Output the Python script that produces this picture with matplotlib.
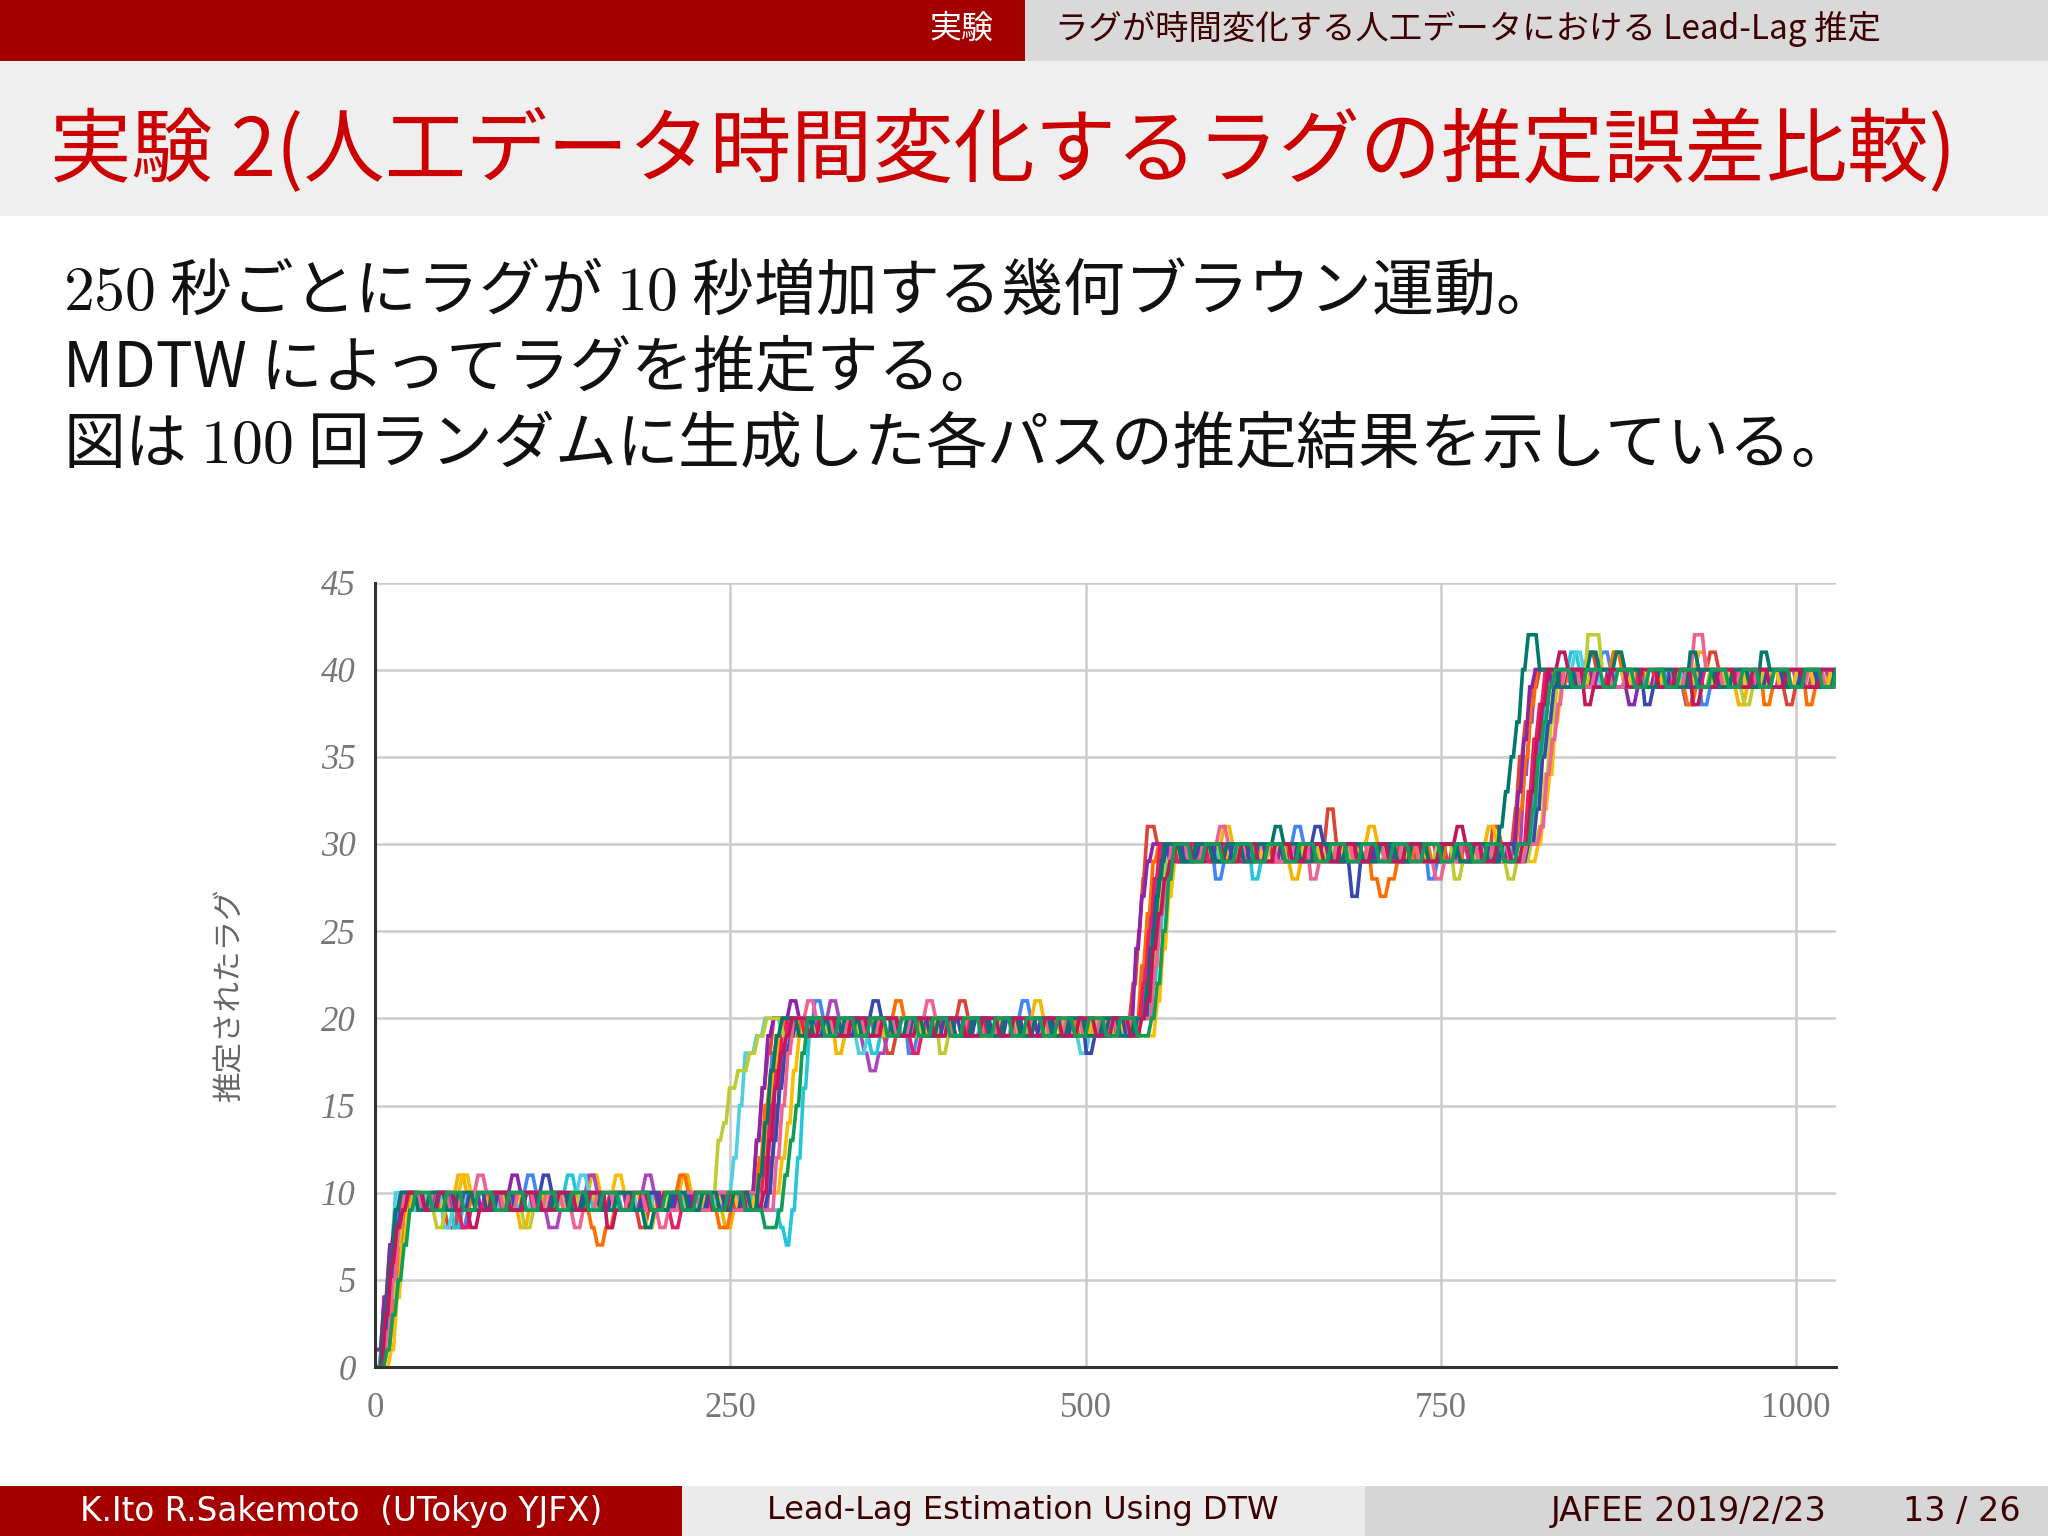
import matplotlib
matplotlib.use("Agg")
import matplotlib.pyplot as plt
from matplotlib.patches import Rectangle

# =================== DATA ===================
# each path: flat list x0, y0, x1, y1, ... -> estimated lag becomes y at time x
path_blue = [0,0, 3,2, 7,5, 11,8, 15,10, 29,9, 37,10, 51,9, 57,8, 63,9, 71,10, 85,9, 93,10, 105,11, 111,10,
             123,9, 135,10, 147,9, 154,10, 171,9, 179,10, 193,9, 206,10, 215,9, 227,10, 241,9, 253,10, 263,9,
             269,12, 273,15, 277,18, 281,19, 287,20, 299,19, 307,21, 313,20, 327,19, 335,20, 349,19, 361,20,
             373,18, 379,19, 391,20, 405,19, 417,20, 429,19, 441,20, 453,21, 459,20, 471,19, 483,20, 495,19,
             507,20, 521,19, 533,20, 541,23, 545,26, 549,29, 553,30, 567,29, 575,30, 589,28, 595,29, 607,30,
             621,29, 631,30, 645,31, 651,30, 663,29, 677,30, 689,29, 701,30, 715,29, 727,30, 739,28, 745,29,
             757,30, 771,29, 783,30, 797,29, 807,30, 813,33, 817,36, 821,38, 825,40, 839,39, 847,40, 861,41,
             867,40, 881,39, 893,40, 907,39, 919,40, 931,38, 937,39, 951,40, 963,39, 975,40, 989,39, 1001,40,
             1015,39, 1028,40]
path_red = [0,1, 4,4, 8,7, 12,9, 18,10, 26,9, 34,10, 44,9, 49,8, 56,9, 62,10, 72,9, 79,10, 92,9, 104,10,
            116,9, 124,10, 138,9, 144,10, 157,9, 165,10, 176,9, 184,8, 190,9, 198,10, 210,9, 222,10, 232,9,
            240,10, 251,9, 259,10, 266,13, 270,16, 274,18, 278,20, 290,19, 296,20, 308,19, 318,20, 331,19,
            337,20, 350,19, 358,18, 364,19, 374,20, 386,19, 396,20, 409,21, 415,20, 425,19, 437,20, 449,19,
            457,20, 468,19, 476,20, 488,19, 500,20, 512,19, 524,20, 531,22, 535,25, 538,28, 541,31, 548,30,
            560,29, 568,30, 580,29, 590,30, 602,29, 612,30, 624,29, 632,30, 646,29, 654,30, 668,32, 674,30,
            684,29, 696,30, 708,29, 718,30, 730,29, 738,30, 752,29, 764,30, 776,29, 784,31, 790,30, 800,32,
            803,35, 807,37, 811,39, 817,40, 829,39, 837,40, 851,41, 857,40, 869,39, 881,40, 893,39, 903,40,
            915,39, 925,40, 937,41, 943,40, 955,39, 967,40, 979,39, 991,38, 997,39, 1009,40, 1021,39]
path_yellow = [0,0, 6,1, 10,3, 14,6, 18,9, 24,10, 36,9, 42,10, 56,11, 62,10, 70,9, 82,10, 94,9, 100,8,
               106,9, 116,10, 130,9, 138,10, 150,11, 156,10, 168,9, 176,10, 190,9, 200,10, 214,11, 220,10,
               230,9, 244,8, 250,9, 258,10, 270,11, 274,14, 278,17, 282,19, 288,20, 300,19, 310,20, 322,18,
               328,19, 338,20, 352,19, 362,20, 374,19, 382,20, 396,19, 406,20, 418,19, 428,20, 440,19, 450,20,
               462,21, 468,20, 480,19, 490,20, 504,19, 514,20, 526,19, 536,20, 543,22, 547,25, 551,27, 555,29,
               561,30, 573,29, 583,30, 595,31, 601,30, 613,29, 623,30, 635,29, 643,28, 649,29, 661,30, 675,29,
               685,30, 697,31, 703,30, 715,29, 725,30, 737,29, 745,30, 759,29, 771,30, 781,31, 787,30, 795,29,
               809,30, 815,32, 819,35, 823,37, 827,39, 833,40, 845,39, 853,40, 869,41, 875,40, 883,39, 893,40,
               905,39, 917,40, 929,41, 935,40, 947,39, 957,38, 963,39, 975,40, 987,39, 999,40, 1011,39, 1021,40]
path_purple = [0,0, 4,3, 8,6, 12,9, 16,10, 30,9, 40,10, 52,9, 60,10, 70,9, 78,10, 90,9, 102,10, 114,9,
               120,8, 128,9, 138,10, 148,11, 154,10, 166,9, 176,10, 188,11, 194,10, 206,9, 218,10, 228,9,
               236,10, 248,9, 258,10, 270,9, 276,12, 280,15, 284,18, 288,20, 300,19, 308,20, 318,21, 324,20,
               336,19, 342,18, 346,17, 352,18, 358,19, 368,20, 380,19, 392,20, 402,19, 414,20, 426,19, 438,20,
               450,19, 458,20, 470,19, 482,20, 494,19, 506,20, 518,19, 528,20, 539,23, 543,26, 547,28, 551,30,
               563,29, 573,30, 585,29, 597,30, 609,29, 619,30, 631,29, 641,30, 653,29, 663,30, 675,29, 683,30,
               697,29, 709,30, 721,29, 733,30, 745,29, 757,30, 767,29, 777,30, 789,29, 799,30, 806,34, 810,37,
               814,40, 826,39, 836,40, 848,39, 856,40, 868,39, 878,40, 890,39, 900,40, 912,39, 920,38, 926,39,
               938,40, 950,39, 962,40, 974,39, 986,40, 998,39, 1010,40, 1022,39]
path_cyan = [0,0, 5,2, 9,5, 13,8, 17,10, 31,9, 41,10, 53,8, 59,9, 71,10, 83,9, 95,10, 109,9, 121,10,
             133,11, 139,10, 151,9, 163,10, 175,9, 185,10, 199,9, 211,10, 221,9, 233,10, 245,9, 255,10,
             265,9, 283,8, 287,7, 291,9, 295,12, 299,16, 303,19, 307,20, 319,19, 327,20, 341,19, 347,18,
             353,19, 365,20, 377,19, 389,20, 401,19, 413,20, 425,19, 437,20, 449,19, 461,20, 473,19, 485,20,
             497,19, 507,20, 519,19, 531,20, 545,22, 549,25, 553,28, 557,30, 569,29, 579,30, 591,29, 603,30,
             615,28, 621,29, 633,30, 645,29, 657,30, 669,29, 679,30, 691,29, 703,30, 715,29, 727,30, 739,29,
             751,30, 763,29, 775,30, 787,29, 797,30, 811,31, 815,33, 819,36, 823,39, 827,40, 839,41, 845,40,
             857,39, 869,40, 881,39, 893,40, 905,39, 917,40, 929,39, 941,40, 953,39, 965,40, 977,39, 989,40,
             1001,39, 1013,40]
path_orange = [0,0, 6,1, 10,4, 14,7, 18,9, 22,10, 34,9, 44,10, 58,9, 66,10, 78,9, 86,10, 98,9, 110,10,
               120,9, 128,10, 140,9, 150,8, 154,7, 160,8, 166,9, 178,10, 190,9, 200,10, 212,11, 218,10,
               230,9, 240,8, 248,9, 258,10, 268,12, 272,15, 276,17, 280,19, 286,20, 298,19, 306,20, 318,19,
               330,20, 342,19, 352,20, 364,21, 370,20, 382,19, 392,20, 404,19, 414,20, 426,19, 436,20, 448,19,
               458,20, 470,19, 482,20, 492,19, 504,20, 516,19, 526,20, 537,23, 541,26, 545,29, 549,30, 561,29,
               571,30, 583,29, 595,30, 607,29, 617,30, 629,29, 639,30, 651,29, 663,30, 675,29, 687,30, 699,28,
               705,27, 711,28, 717,29, 729,30, 741,29, 751,30, 763,29, 775,30, 785,29, 795,30, 803,32, 807,35,
               811,38, 815,40, 827,39, 837,40, 849,39, 857,40, 869,41, 875,40, 887,39, 899,40, 911,39, 921,38,
               927,39, 939,40, 951,39, 963,40, 975,38, 981,39, 993,40, 1005,38, 1011,39, 1023,40]
path_lime = [0,0, 5,2, 9,4, 13,7, 17,9, 21,10, 33,9, 41,8, 47,9, 57,10, 69,9, 81,10, 93,9, 103,8, 109,9,
             119,10, 131,9, 141,10, 153,9, 165,10, 177,9, 189,8, 195,9, 205,10, 217,9, 229,10, 239,13,
             243,14, 247,16, 253,17, 261,18, 267,19, 273,20, 285,19, 295,20, 307,19, 317,20, 329,19, 339,20,
             351,19, 363,20, 373,19, 383,20, 395,18, 401,19, 413,20, 425,19, 437,20, 449,19, 459,20, 471,19,
             483,20, 495,19, 505,20, 517,19, 529,20, 541,21, 545,24, 549,27, 553,29, 559,30, 571,29, 581,30,
             593,29, 605,30, 617,29, 627,30, 639,29, 651,30, 663,29, 673,30, 685,29, 697,30, 709,29, 721,30,
             733,29, 745,30, 757,28, 763,29, 773,30, 785,29, 795,28, 801,29, 811,30, 817,31, 821,34, 825,37,
             829,39, 835,40, 843,39, 851,42, 861,40, 877,39, 889,40, 901,39, 913,40, 925,39, 937,40, 949,39,
             961,38, 967,39, 979,40, 991,39, 1003,40, 1015,39, 1025,40]
path_navy = [0,0, 4,2, 8,5, 12,8, 16,9, 20,10, 32,9, 42,10, 54,9, 64,10, 76,9, 84,10, 96,9, 104,10,
             116,11, 122,10, 134,9, 144,10, 156,9, 164,10, 176,9, 186,10, 198,9, 208,10, 220,9, 232,10,
             244,9, 256,10, 268,9, 274,10, 278,13, 282,16, 286,18, 290,19, 294,20, 306,19, 314,20, 326,19,
             336,20, 348,21, 354,20, 366,19, 376,20, 388,19, 398,20, 410,19, 420,20, 432,19, 442,20, 454,19,
             466,20, 476,19, 488,20, 498,18, 504,19, 514,20, 526,19, 534,20, 543,24, 547,27, 551,29, 555,30,
             567,29, 577,30, 589,29, 601,30, 613,29, 625,30, 637,29, 647,30, 659,31, 665,30, 677,29, 685,27,
             691,29, 701,30, 713,29, 723,30, 735,29, 747,30, 759,29, 771,30, 783,29, 791,30, 801,29, 809,30,
             815,32, 819,35, 823,37, 827,39, 831,40, 843,39, 855,40, 867,39, 879,40, 891,38, 897,39, 909,40,
             921,39, 931,40, 943,39, 953,40, 965,39, 977,40, 989,39, 1001,40, 1013,39, 1025,40]
path_pink = [0,0, 6,2, 10,5, 14,8, 18,10, 30,9, 38,10, 50,9, 58,10, 70,11, 76,10, 88,9, 98,10, 110,9,
             118,10, 130,9, 138,8, 144,9, 154,10, 166,9, 176,10, 188,9, 198,8, 204,9, 214,10, 226,9, 236,10,
             248,9, 260,10, 270,9, 280,12, 284,15, 288,18, 292,20, 302,21, 308,20, 320,19, 330,20, 342,19,
             352,20, 364,19, 374,20, 386,21, 392,20, 404,19, 414,20, 426,19, 436,20, 448,19, 460,20, 472,19,
             484,20, 496,19, 508,20, 520,19, 530,20, 546,23, 550,26, 554,28, 558,30, 570,29, 580,30, 592,31,
             598,30, 610,29, 620,30, 632,29, 644,30, 656,28, 662,29, 674,30, 686,29, 696,30, 708,29, 720,30,
             732,29, 744,28, 750,29, 762,30, 774,29, 784,30, 796,29, 808,30, 818,31, 822,34, 826,36, 830,38,
             834,40, 846,39, 856,40, 868,39, 878,40, 890,39, 900,40, 912,39, 920,40, 926,42, 934,40, 946,39,
             958,40, 970,39, 982,40, 994,39, 1006,40, 1018,39]
path_teal = [0,0, 4,3, 8,6, 12,9, 16,10, 28,9, 36,10, 48,9, 56,10, 68,9, 80,10, 92,9, 102,10, 114,9,
             124,10, 136,9, 146,10, 158,9, 168,10, 180,9, 188,8, 194,9, 206,10, 218,9, 228,10, 240,9, 250,10,
             262,9, 268,11, 272,14, 276,17, 280,19, 284,20, 296,19, 306,20, 318,19, 328,20, 340,19, 350,20,
             362,19, 372,20, 384,19, 394,20, 406,19, 418,20, 430,19, 440,20, 452,19, 462,20, 474,19, 486,20,
             498,19, 510,20, 522,19, 532,20, 541,22, 545,25, 549,28, 553,30, 565,29, 575,30, 587,29, 597,30,
             609,29, 619,30, 631,31, 637,30, 649,29, 659,30, 671,29, 681,30, 693,29, 705,30, 717,29, 727,30,
             739,29, 749,30, 761,29, 771,30, 781,29, 789,31, 793,33, 797,35, 801,37, 805,40, 809,42, 817,40,
             831,39, 841,40, 853,41, 859,40, 871,41, 877,40, 889,39, 901,40, 913,39, 923,41, 929,40, 941,39,
             953,40, 965,39, 973,41, 979,40, 991,39, 1003,40, 1015,39, 1025,40]
path_crimson = [0,0, 5,3, 9,6, 13,8, 17,9, 21,10, 33,9, 43,10, 55,9, 65,8, 71,9, 81,10, 93,9, 103,10,
                115,9, 127,10, 139,9, 149,10, 161,8, 167,9, 179,10, 191,9, 201,10, 213,9, 223,10, 235,9,
                247,10, 259,9, 271,10, 275,13, 279,16, 283,18, 287,19, 291,20, 303,19, 311,20, 323,19, 333,20,
                345,19, 355,20, 367,19, 379,20, 391,19, 401,20, 413,19, 425,20, 437,19, 447,20, 459,19, 469,20,
                481,19, 493,20, 505,19, 517,20, 529,19, 537,20, 541,21, 545,24, 549,26, 553,28, 557,29, 561,30,
                573,29, 583,30, 595,29, 607,30, 619,29, 631,30, 643,29, 653,30, 665,29, 677,30, 689,29, 699,30,
                711,29, 723,30, 735,29, 747,30, 759,31, 765,30, 777,29, 787,30, 797,29, 805,30, 811,33, 815,36,
                819,38, 823,40, 831,41, 837,40, 849,38, 855,39, 867,40, 879,39, 889,40, 901,39, 913,40, 925,38,
                931,39, 943,40, 955,39, 967,40, 979,39, 991,40, 1003,39, 1015,40]
path_green = [0,0, 6,1, 10,3, 14,5, 18,7, 22,9, 26,10, 38,9, 48,10, 60,9, 70,10, 82,9, 92,10, 104,9,
              114,10, 126,9, 136,10, 148,9, 158,10, 170,9, 180,10, 192,9, 202,10, 214,9, 224,10, 236,9,
              246,10, 258,9, 272,8, 282,9, 286,11, 290,13, 294,15, 298,18, 302,20, 314,19, 324,20, 336,19,
              346,20, 358,19, 368,20, 380,19, 390,20, 402,19, 412,20, 424,19, 434,20, 446,19, 456,20, 468,19,
              478,20, 490,19, 500,20, 512,19, 522,20, 534,19, 544,20, 548,22, 552,25, 556,28, 560,30, 572,29,
              582,30, 594,29, 604,30, 616,29, 626,30, 638,29, 648,30, 660,29, 670,30, 682,29, 692,30, 704,29,
              714,30, 726,29, 736,30, 748,29, 758,30, 770,29, 780,30, 792,29, 802,30, 812,32, 816,35, 820,37,
              824,39, 828,40, 840,39, 850,40, 862,39, 872,40, 884,39, 894,40, 906,39, 916,40, 928,39, 938,40,
              950,39, 960,40, 972,39, 982,40, 994,39, 1004,40, 1016,39, 1026,40]
path_lightcyan = [0,0, 4,3, 8,7, 12,10, 26,9, 34,10, 46,8, 52,9, 62,10, 76,9, 86,10, 98,9, 108,10, 120,9,
                  128,10, 142,11, 148,10, 160,9, 170,10, 182,9, 194,10, 206,9, 216,10, 228,9, 238,10, 250,12,
                  254,15, 258,18, 266,19, 272,20, 284,19, 294,20, 306,19, 316,20, 328,19, 338,18, 344,19,
                  356,20, 368,19, 378,20, 390,19, 402,20, 414,19, 424,20, 436,19, 446,20, 458,19, 470,20,
                  482,19, 494,18, 500,19, 512,20, 524,19, 534,20, 542,23, 546,26, 550,28, 554,30, 566,29,
                  576,30, 588,29, 598,30, 610,29, 622,30, 634,29, 644,30, 656,29, 668,30, 680,29, 690,30,
                  702,29, 714,30, 726,29, 736,30, 748,29, 760,30, 772,29, 782,30, 794,29, 806,30, 814,33,
                  818,35, 822,36, 826,38, 830,40, 842,41, 848,40, 860,39, 870,40, 882,39, 894,40, 906,39,
                  918,40, 930,39, 940,40, 952,39, 964,40, 976,39, 988,40, 1000,39, 1012,40, 1024,39]
path_gold = [0,0, 7,0, 9,1, 13,4, 17,7, 21,9, 25,10, 37,9, 47,10, 59,11, 65,10, 77,9, 89,10, 101,9,
             111,10, 123,9, 133,10, 145,9, 155,10, 167,11, 173,10, 185,9, 197,10, 209,9, 219,10, 231,9,
             241,10, 253,9, 265,10, 284,12, 288,14, 292,17, 296,19, 300,20, 312,19, 322,20, 334,19, 344,20,
             356,19, 366,20, 378,19, 388,20, 400,19, 412,20, 424,19, 434,20, 446,19, 456,20, 468,19, 478,20,
             490,19, 502,20, 514,19, 524,20, 536,19, 548,21, 552,24, 556,27, 560,29, 564,30, 576,29, 586,30,
             598,29, 610,30, 622,29, 632,30, 644,29, 656,30, 668,29, 678,30, 690,29, 700,30, 712,29, 724,30,
             736,29, 748,30, 760,29, 772,30, 784,29, 796,30, 808,29, 816,30, 820,32, 824,34, 828,37, 832,39,
             836,40, 848,39, 858,40, 870,39, 882,40, 894,39, 904,40, 916,39, 928,40, 940,39, 950,40, 962,39,
             974,40, 986,39, 998,40, 1010,39, 1022,40]
path_violet = [0,1, 4,4, 8,7, 12,9, 16,10, 28,9, 38,10, 50,9, 60,10, 72,9, 82,10, 94,11, 100,10, 112,9,
               122,10, 134,9, 144,10, 156,9, 166,10, 178,9, 188,10, 200,9, 210,10, 222,9, 234,10, 246,9,
               256,10, 266,13, 270,16, 274,19, 278,20, 290,21, 296,20, 308,19, 318,20, 330,19, 340,20, 352,19,
               362,20, 374,19, 384,20, 396,19, 406,20, 418,19, 428,20, 440,19, 452,20, 464,19, 474,20, 486,19,
               498,20, 510,19, 520,20, 533,24, 537,27, 541,29, 545,30, 557,29, 567,30, 579,29, 589,30, 601,29,
               613,30, 625,29, 635,30, 647,29, 657,30, 669,29, 681,30, 693,29, 703,30, 715,29, 727,30, 739,29,
               749,30, 761,29, 773,30, 785,29, 795,30, 802,33, 806,36, 810,39, 814,40, 826,39, 836,40, 848,39,
               858,40, 870,39, 880,38, 886,39, 898,40, 910,39, 920,40, 932,39, 944,40, 956,39, 968,40, 980,39,
               990,40, 1002,39, 1014,40, 1026,39]
path_rose = [0,0, 5,2, 9,5, 13,8, 17,10, 29,9, 39,10, 51,9, 59,8, 65,9, 75,10, 87,9, 97,10, 109,9, 119,10,
             131,9, 141,10, 153,9, 163,10, 175,9, 185,10, 197,9, 207,8, 213,9, 223,10, 235,9, 245,10, 257,9,
             269,10, 272,12, 276,15, 280,17, 284,19, 288,20, 300,19, 310,20, 322,19, 332,20, 344,19, 354,20,
             366,19, 376,18, 382,19, 394,20, 406,19, 416,20, 428,19, 438,20, 450,19, 462,20, 474,19, 484,20,
             496,19, 508,20, 520,19, 530,20, 538,22, 542,25, 546,28, 550,30, 562,29, 572,30, 584,29, 596,30,
             608,29, 618,30, 630,29, 642,30, 654,29, 664,30, 676,29, 688,30, 700,29, 710,30, 722,29, 734,30,
             746,29, 756,30, 768,29, 780,30, 792,29, 802,30, 809,33, 813,36, 817,38, 821,40, 833,39, 843,40,
             855,39, 865,40, 877,39, 887,40, 899,39, 911,40, 923,39, 933,40, 945,39, 957,40, 969,39, 979,40,
             991,39, 1003,40, 1015,39]

paths = [path_blue, path_red, path_yellow, path_purple, path_cyan, path_orange, path_lightcyan,
         path_gold, path_violet, path_rose, path_lime, path_navy, path_pink, path_teal, path_crimson,
         path_green]
path_colors = ["#4285f4", "#db4437", "#f4b400", "#ab47bc", "#26c6da", "#ff6d00", "#4dd0e1",
               "#fbbc04", "#8e24aa", "#e91e63", "#c0ca33", "#3949ab", "#f06292", "#00796b", "#c2185b",
               "#0f9d58"]

x_ticks = [0, 250, 500, 750, 1000]
y_ticks = [0, 5, 10, 15, 20, 25, 30, 35, 40, 45]
X_END = 1028
RAMP = 2.5   # width of the slanted edge between two levels

# =================== STYLE ===================
plt.rcParams["font.family"] = ["Noto Sans CJK JP", "DejaVu Sans"]
plt.rcParams["mathtext.fontset"] = "cm"

RED_DARK = "#a50000"
RED_TITLE = "#cc0000"
TXT_DARK = "#3d0000"


def step_vertices(p):
    xs, ys = [p[0]], [p[1]]
    for i in range(2, len(p), 2):
        xs += [p[i], p[i] + RAMP]
        ys += [ys[-1], p[i + 1]]
    xs.append(X_END)
    ys.append(ys[-1])
    return xs, ys


fig = plt.figure(figsize=(20.48, 15.36), dpi=100)
fig.patch.set_facecolor("white")

# --- header bars ---
fig.add_artist(Rectangle((0, 1 - 61 / 1536), 1025 / 2048, 61 / 1536,
                         transform=fig.transFigure, color=RED_DARK, lw=0))
fig.add_artist(Rectangle((1025 / 2048, 1 - 61 / 1536), 1 - 1025 / 2048, 61 / 1536,
                         transform=fig.transFigure, color="#d9d9d9", lw=0))
fig.add_artist(Rectangle((0, 1 - 216 / 1536), 1, 155 / 1536,
                         transform=fig.transFigure, color="#efefef", lw=0))
fig.text(993 / 2048, 1 - 29 / 1536, "実験", color="white", fontsize=23,
         ha="right", va="center")
fig.text(1055 / 2048, 1 - 29 / 1536, "ラグが時間変化する人工データにおける Lead-Lag 推定",
         color=TXT_DARK, fontsize=24, ha="left", va="center")
fig.text(50 / 2048, 1 - 152 / 1536, "実験 2(人工データ時間変化するラグの推定誤差比較)",
         color=RED_TITLE, fontsize=58.5, ha="left", va="center")

# --- body text ---
body_lines = ["$250$ 秒ごとにラグが $10$ 秒増加する幾何ブラウン運動。",
              "MDTW によってラグを推定する。",
              "図は $100$ 回ランダムに生成した各パスの推定結果を示している。"]
for k, line in enumerate(body_lines):
    fig.text(63 / 2048, 1 - (292 + 76.5 * k) / 1536, line, color="#111111",
             fontsize=44.5, ha="left", va="center")

# --- footer ---
foot_y = 1486 / 1536
fig.add_artist(Rectangle((0, 0), 682 / 2048, 1 - foot_y,
                         transform=fig.transFigure, color=RED_DARK, lw=0))
fig.add_artist(Rectangle((682 / 2048, 0), 683 / 2048, 1 - foot_y,
                         transform=fig.transFigure, color="#ebebeb", lw=0))
fig.add_artist(Rectangle((1365 / 2048, 0), 683 / 2048, 1 - foot_y,
                         transform=fig.transFigure, color="#d6d6d6", lw=0))
fy = 25 / 1536
fig.text(341 / 2048, fy, "K.Ito R.Sakemoto  (UTokyo YJFX)", color="white",
         fontsize=23.5, family=["DejaVu Sans"], ha="center", va="center")
fig.text(1023 / 2048, fy, "Lead-Lag Estimation Using DTW", color=TXT_DARK,
         fontsize=23, family=["DejaVu Sans"], ha="center", va="center")
fig.text(1689 / 2048, fy, "JAFEE 2019/2/23", color=TXT_DARK,
         fontsize=24, family=["DejaVu Sans"], ha="center", va="center")
fig.text(1962 / 2048, fy, "13 / 26", color=TXT_DARK,
         fontsize=24, family=["DejaVu Sans"], ha="center", va="center")

# --- chart ---
ax = fig.add_axes([375 / 2048, 1 - 1367 / 1536, (1836 - 375) / 2048, (1367 - 582.5) / 1536])
for p, c in zip(paths, path_colors):
    xs, ys = step_vertices(p)
    ax.plot(xs, ys, color=c, lw=2.6, solid_joinstyle="miter", zorder=3)

ax.set_xlim(0, X_END)
ax.set_ylim(0, 45)
ax.set_xticks(x_ticks)
ax.set_yticks(y_ticks)
ax.grid(True, color="#cccccc", lw=1.8, zorder=0)
ax.set_axisbelow(True)
for s in ["top", "right"]:
    ax.spines[s].set_visible(False)
for s in ["left", "bottom"]:
    ax.spines[s].set_color("#333333")
    ax.spines[s].set_linewidth(2.2)
    ax.spines[s].set_zorder(4)
ax.tick_params(length=0, colors="#777777")
ax.tick_params(axis="y", pad=14)
ax.tick_params(axis="x", pad=18)
for lab in ax.get_yticklabels():
    lab.set_fontfamily(["Liberation Serif"])
    lab.set_fontstyle("italic")
    lab.set_fontsize(25)
for lab in ax.get_xticklabels():
    lab.set_fontfamily(["Liberation Serif"])
    lab.set_fontsize(25)

fig.text(230 / 2048, 1 - 995 / 1536, "推定されたラグ", rotation=90, color="#666666",
         fontsize=22, ha="center", va="center")

fig.savefig("out.png", dpi=100)
